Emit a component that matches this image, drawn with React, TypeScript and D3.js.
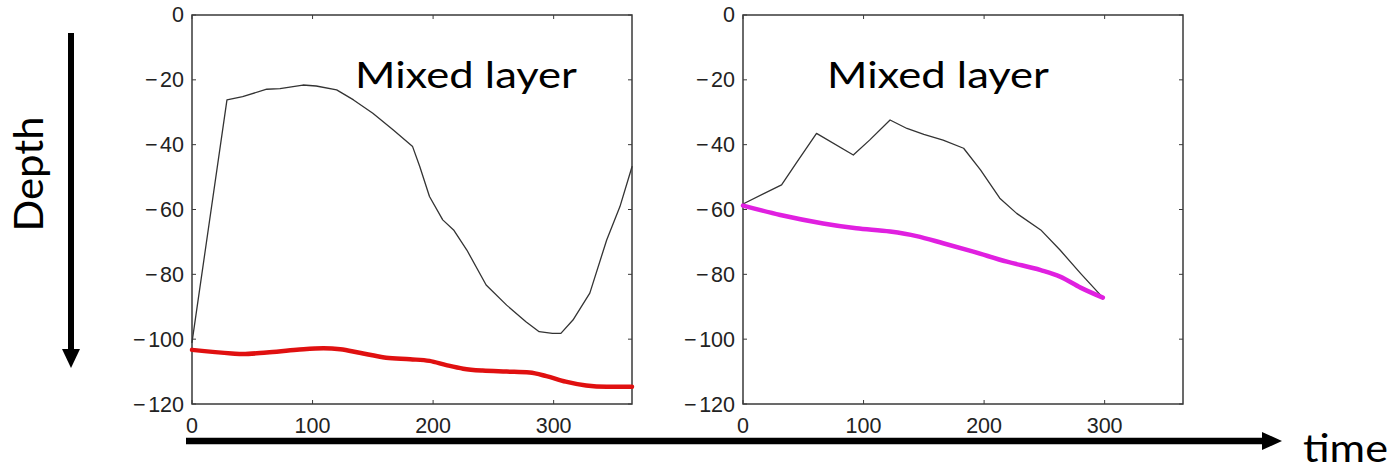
import React from "react";
import * as d3 from "d3";

const W = 1398;
const H = 471;

// Left panel data
const leftMldX = [0, 29, 42, 62, 73, 92, 103, 120, 134, 150, 167, 183, 189, 197, 208, 217, 228, 244, 261, 277, 288, 299, 306, 316, 330, 344, 355, 365];
const leftMldY = [-101, -26.2, -25.2, -22.9, -22.7, -21.6, -21.9, -23.1, -26.2, -30.3, -35.5, -40.6, -46.8, -56, -63.2, -66.3, -72.5, -83.3, -89.5, -94.6, -97.7, -98.2, -98.2, -94.1, -85.8, -69.4, -59.1, -46.8];
const leftRedX = [0, 33, 42, 62, 87, 109, 123, 139, 161, 181, 197, 211, 225, 241, 261, 280, 294, 310, 327, 344, 365];
const leftRedY = [-103.3, -104.4, -104.6, -104.1, -103.3, -102.8, -103.1, -104.2, -105.7, -106.2, -106.7, -108, -109.1, -109.7, -110, -110.3, -111.4, -113.1, -114.3, -114.7, -114.7];

// Right panel data
const rightMldX = [0, 32, 44, 61, 91.5, 105, 122, 136, 150, 166, 183, 197, 213, 227, 247, 263, 280, 298.5];
const rightMldY = [-58.3, -52.4, -45.8, -36.5, -43.2, -38.6, -32.4, -35, -36.8, -38.6, -41.1, -47.8, -56.5, -61.2, -66.3, -72.5, -79.7, -87.2];
const rightMagX = [0, 31, 66.5, 94, 122, 144, 166, 191, 219, 247, 263, 280, 298.5];
const rightMagY = [-58.8, -61.7, -64.3, -65.8, -66.8, -68.2, -70.4, -73, -76.1, -78.7, -80.7, -84.1, -87.2];

const xTicks = [0, 100, 200, 300];
const yTicks = [0, -20, -40, -60, -80, -100, -120];
const panelLabel = "Mixed layer";

type PanelProps = {
  left: number;
  right: number;
  series: { x: number[]; y: number[]; color: string; width: number; smooth: boolean }[];
  labelX: number;
};

const top = 15;
const bottom = 404;
const tickFont = "Liberation Sans, Arial, sans-serif";

function Panel({ left, right, series, labelX }: PanelProps) {
  const x = d3.scaleLinear().domain([0, 365]).range([left, right]);
  const y = d3.scaleLinear().domain([-120, 0]).range([bottom, top]);
  const axisColor = "#3a3a3a";
  return (
    <g>
      <rect x={left} y={top} width={right - left} height={bottom - top} fill="white" stroke={axisColor} strokeWidth={1.5} />
      {yTicks.map((t) => (
        <g key={"y" + t}>
          <line x1={left} x2={left + 4} y1={y(t)} y2={y(t)} stroke={axisColor} strokeWidth={1} />
          <line x1={right} x2={right - 4} y1={y(t)} y2={y(t)} stroke={axisColor} strokeWidth={1} />
          <text x={left - 8} y={y(t) + 1.5} textAnchor="end" dominantBaseline="middle" fontFamily={tickFont} fontSize={21.5} fill="#222">
            {t < 0 ? (
              <>
                <tspan>{"\u2212"}</tspan>
                <tspan dx={2.5}>{String(Math.abs(t))}</tspan>
              </>
            ) : (
              String(t)
            )}
          </text>
        </g>
      ))}
      {xTicks.map((t) => (
        <g key={"x" + t}>
          <line x1={x(t)} x2={x(t)} y1={bottom} y2={bottom - 4} stroke={axisColor} strokeWidth={1} />
          <line x1={x(t)} x2={x(t)} y1={top} y2={top + 4} stroke={axisColor} strokeWidth={1} />
          <text x={x(t)} y={433} textAnchor="middle" fontFamily={tickFont} fontSize={21.5} fill="#222">
            {t}
          </text>
        </g>
      ))}
      {series.map((s, i) => {
        const pts = s.x.map((v, k) => [v, s.y[k]] as [number, number]);
        const line = d3
          .line<[number, number]>()
          .x((d) => x(d[0]))
          .y((d) => y(d[1]))
          .curve(s.smooth ? d3.curveMonotoneX : d3.curveLinear);
        return (
          <path key={i} d={line(pts) || ""} fill="none" stroke={s.color} strokeWidth={s.width} strokeLinejoin="round" strokeLinecap="round" />
        );
      })}
      <text x={labelX} y={88} fontFamily="Lato, Open Sans, sans-serif" fontSize={37} textLength={222} lengthAdjust="spacingAndGlyphs" fill="#000">
        {panelLabel}
      </text>
    </g>
  );
}

export default function App() {
  return (
    <svg width={W} height={H} style={{ position: "absolute", left: 0, top: 0, background: "white" }}>
      <rect x={0} y={0} width={W} height={H} fill="white" />
      <Panel
        left={192}
        right={632}
        labelX={355}
        series={[
          { x: leftMldX, y: leftMldY, color: "#333", width: 1.3, smooth: false },
          { x: leftRedX, y: leftRedY, color: "#e01010", width: 4.5, smooth: true },
        ]}
      />
      <Panel
        left={743}
        right={1183}
        labelX={827}
        series={[
          { x: rightMldX, y: rightMldY, color: "#333", width: 1.3, smooth: false },
          { x: rightMagX, y: rightMagY, color: "#e020e0", width: 4.5, smooth: true },
        ]}
      />
      {/* Depth arrow */}
      <line x1={71} x2={71} y1={33} y2={350} stroke="#000" strokeWidth={6} />
      <polygon points="62,349 80,349 71,368" fill="#000" />
      <text transform="translate(43,174) rotate(-90)" textAnchor="middle" fontFamily="Lato, Open Sans, sans-serif" fontSize={41} textLength={115} lengthAdjust="spacingAndGlyphs" fill="#000">
        Depth
      </text>
      {/* time arrow */}
      <line x1={186} x2={1263} y1={441} y2={441} stroke="#000" strokeWidth={6.5} />
      <polygon points="1262,432 1262,450 1282,441" fill="#000" />
      <text x={1303} y={462} fontFamily="Lato, Open Sans, sans-serif" fontSize={38} textLength={85} lengthAdjust="spacingAndGlyphs" fill="#000">
        time
      </text>
    </svg>
  );
}
